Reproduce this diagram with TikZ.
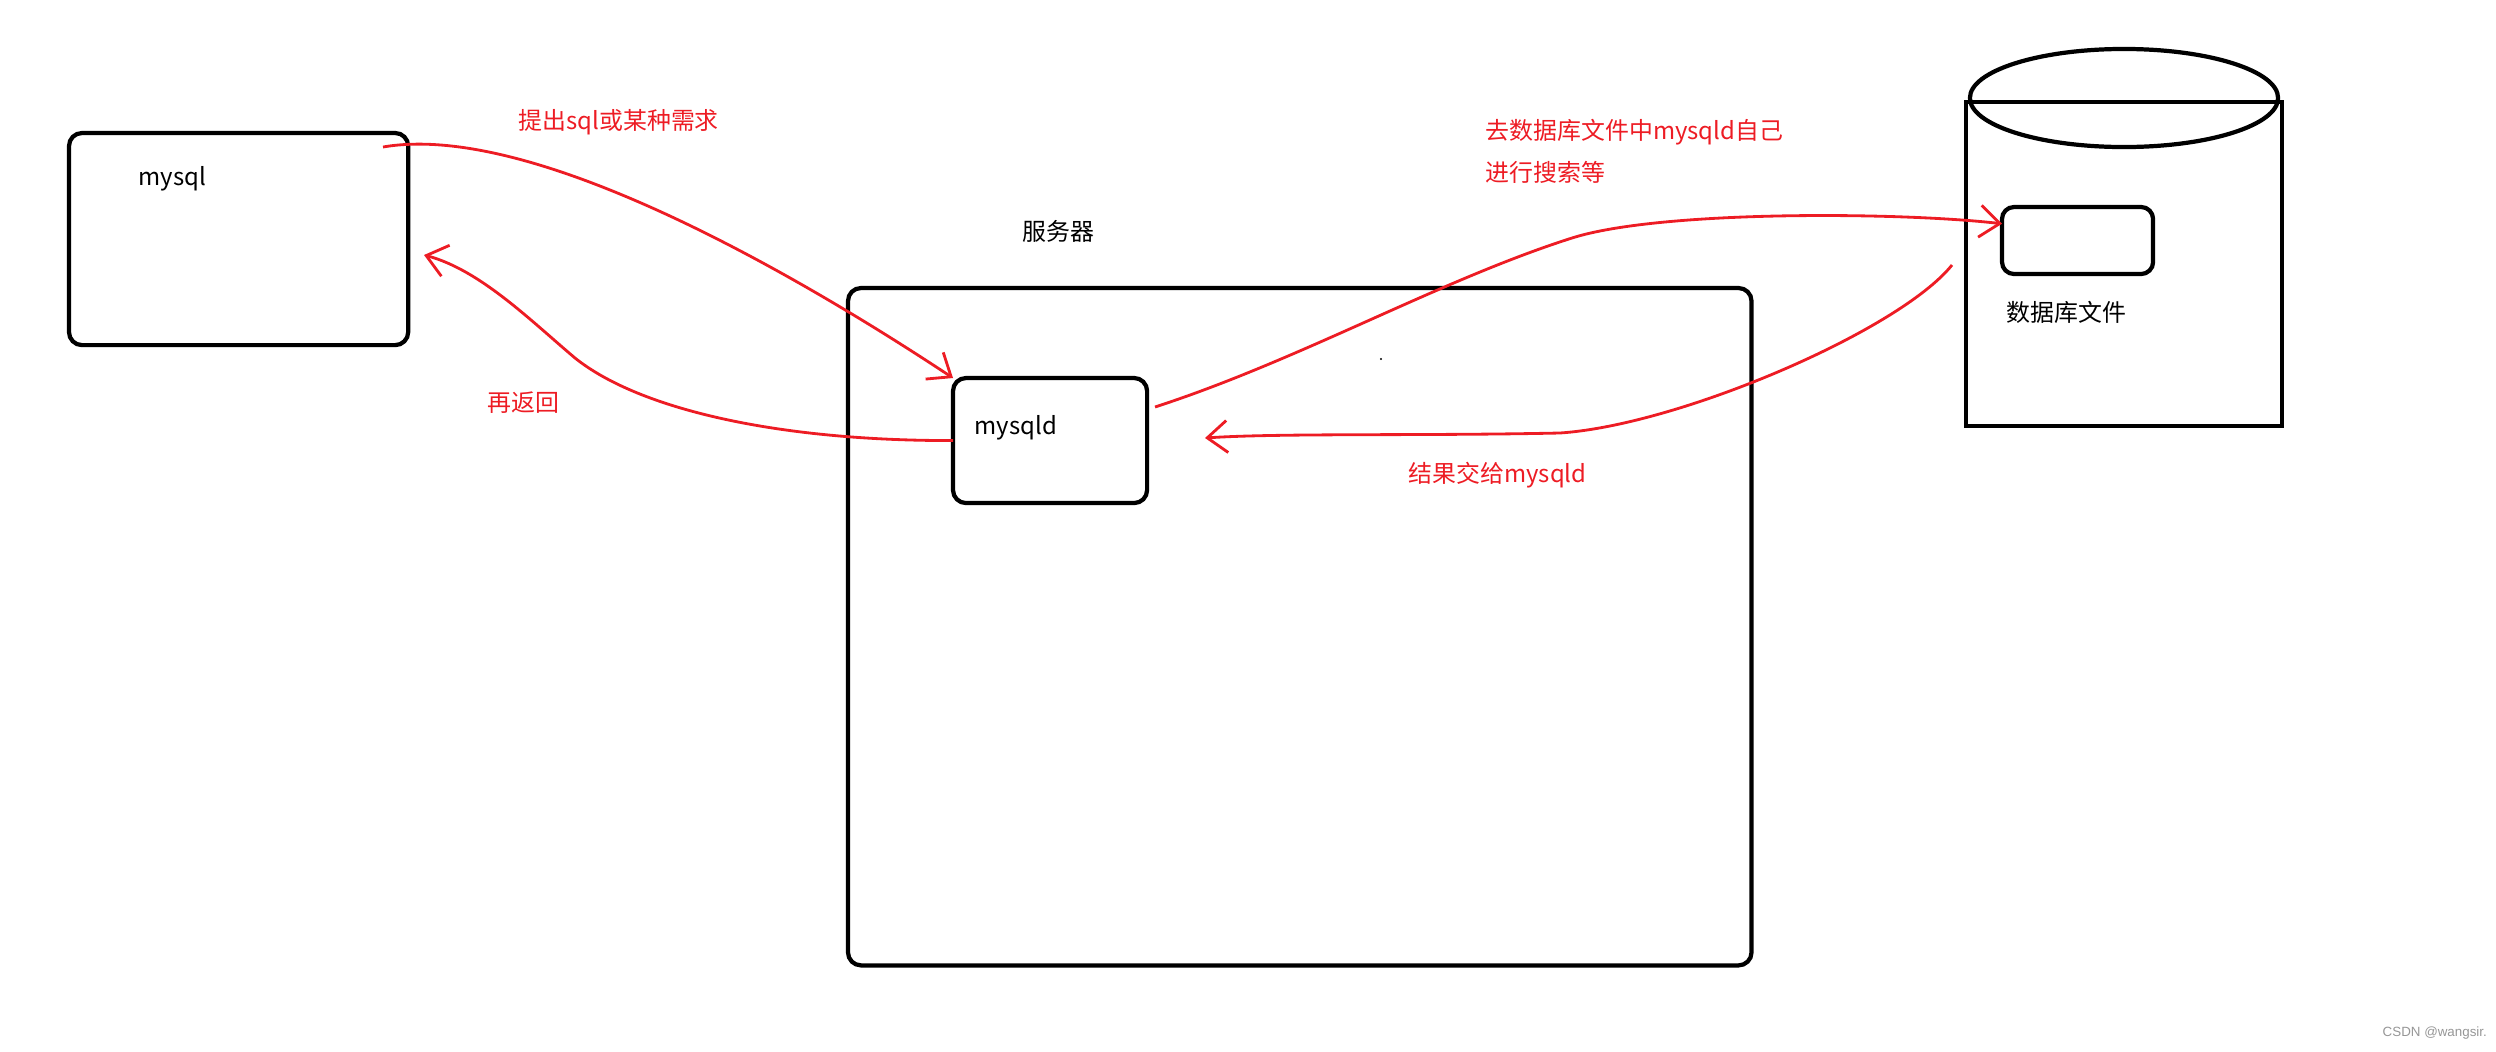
\documentclass[tikz,border=0pt]{standalone}
\usepackage{fontspec}
\setmainfont{Noto Sans CJK SC}
\newfontfamily\markfont{Liberation Sans}
\usetikzlibrary{arrows.meta, calc, shapes.geometric}
\definecolor{paintred}{RGB}{237, 28, 36}
\definecolor{markgray}{RGB}{150, 150, 150}

\begin{document}
\begin{tikzpicture}[x=0.01cm, y=-0.01cm,
  box/.style={draw, line width=1.2pt, rounded corners=0.13cm, inner sep=0pt, outer sep=0pt, anchor=north west},
  txt/.style={inner sep=0pt, anchor=west, font=\fontsize{6.8pt}{8pt}\selectfont},
  redtxt/.style={txt, text=paintred},
  flow/.style={draw=paintred, line width=0.8pt, -{Straight Barb[length=0.2cm, width=0.32cm]}}
]
\useasboundingbox (0,0) rectangle (2496,1051);

% client
\node[box, minimum width=3.39cm, minimum height=2.12cm] (mysql) at (69,133) {};
\node[txt] (mysqltxt) at (138,179) {mysql};

% server
\node[box, minimum width=9.03cm, minimum height=6.77cm] (server) at (848,288) {};
\node[txt] (servertxt) at (1022,231) {服务器};
\node[box, minimum width=1.94cm, minimum height=1.25cm] (mysqld) at (953,378) {};
\node[txt] (mysqldtxt) at (974,428) {mysqld};
\fill (1381,359) circle (0.012cm);

% database
\node[box, rounded corners=0pt, minimum width=3.16cm, minimum height=3.24cm] (db) at (1966,102) {};
\node[draw, ellipse, line width=1.2pt, inner sep=0pt, outer sep=0pt, minimum width=3.08cm, minimum height=0.98cm] (dbtop) at (2124,98) {};
\node[box, rounded corners=0.12cm, minimum width=1.51cm, minimum height=0.67cm] (dbfile) at (2002,207) {};
\node[txt] (dbfiletxt) at (2006,312) {数据库文件};

\coordinate (reqstart) at (383,147);
\coordinate (retend) at (424,255);
\coordinate (qstart) at (1155,407);
\coordinate (resstart) at (1952,265);
\coordinate (resend) at (1205,438);

\draw[flow] (reqstart) .. controls (540,120) and (820,290) .. (mysqld.north west);
\node[redtxt] (reqtxt) at (518,122) {提出sql或某种需求};

\draw[flow] (mysqld.west) .. controls (780,441) and (640,410) .. (575,358)
  .. controls (530,320) and (480,270) .. (retend);
\node[redtxt] (rettxt) at (487,403) {再返回};

\draw[flow] (qstart) .. controls (1300,360) and (1440,280) .. (1572,238)
  .. controls (1660,210) and (1900,212) .. ($(dbfile.west)!0.5!(dbfile.north west)$);
\node[redtxt] (qtxt) at (1485,132) {去数据库文件中mysqld自己};
\node[redtxt] (qtxtb) at (1485,172) {进行搜索等};

\draw[flow] (resstart) .. controls (1900,330) and (1680,425) .. (1560,433)
  .. controls (1420,436) and (1280,433) .. (resend);
\node[redtxt] (restxt) at (1408,475) {结果交给mysqld};

\node[inner sep=0pt, anchor=west, text=markgray, font=\markfont\fontsize{3.8pt}{4.5pt}\selectfont] (mark) at (2382,1033) {CSDN @wangsir.};
\end{tikzpicture}
\end{document}
